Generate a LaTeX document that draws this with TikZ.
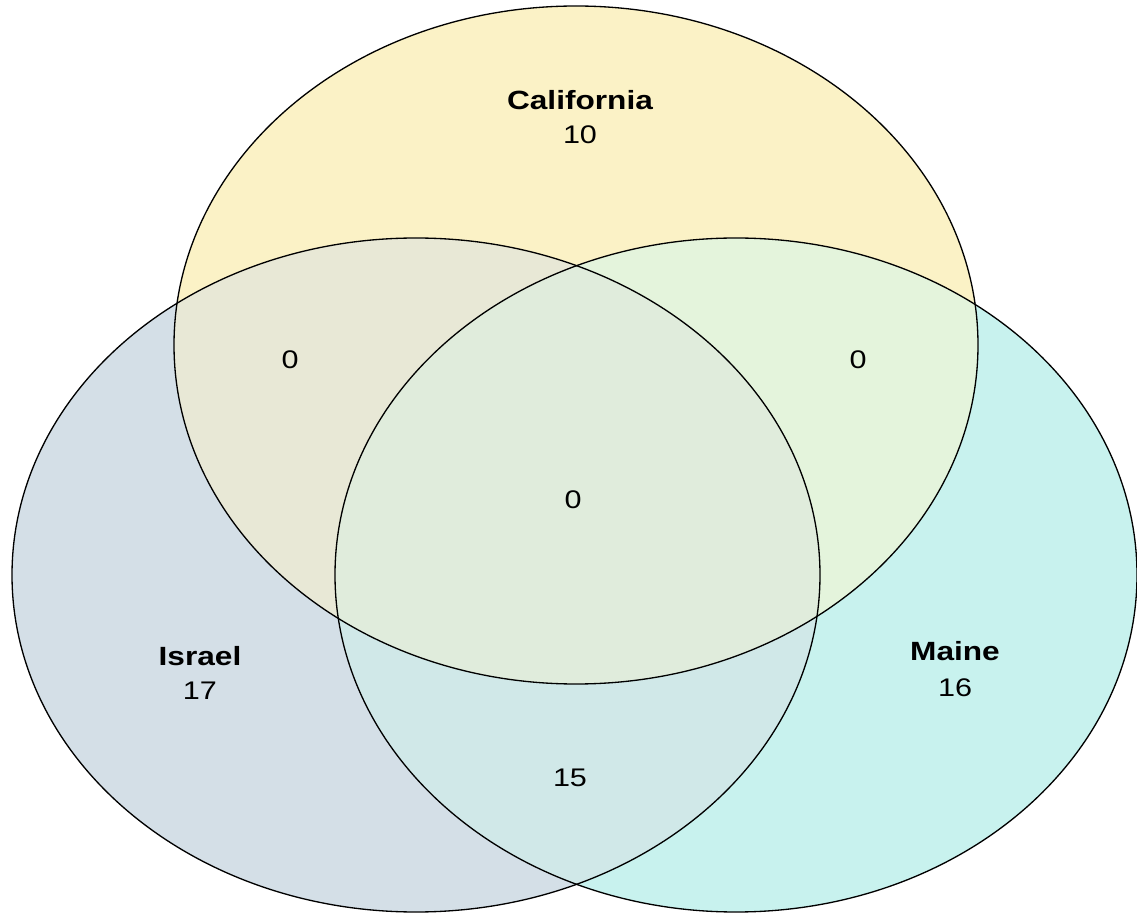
\documentclass[tikz,border=0pt]{standalone}
\usepackage{fontspec}
\setmainfont{Liberation Sans}
\usetikzlibrary{positioning}
\definecolor{calfill}{HTML}{FBF2C6}
\definecolor{isrfill}{HTML}{D4DFE7}
\definecolor{maifill}{HTML}{C8F2EE}
\definecolor{calisr}{HTML}{E8E8D6}
\definecolor{calmai}{HTML}{E4F4DC}
\definecolor{isrmai}{HTML}{D0E8E8}
\definecolor{allthree}{HTML}{E0ECDC}
\newcommand{\calset}{(576,345) ellipse [x radius=402, y radius=339]}
\newcommand{\isrset}{(416,575) ellipse [x radius=404, y radius=337]}
\newcommand{\maiset}{(736,575) ellipse [x radius=401, y radius=337]}
\newcommand{\wide}[1]{\scalebox{1.2}[1]{#1}}
\tikzset{
  setname/.style={font=\bfseries\fontsize{15pt}{17pt}\selectfont, inner sep=0pt},
  count/.style={font=\fontsize{14.5pt}{16pt}\selectfont, inner sep=0pt},
  outline/.style={draw=black, line width=0.75pt}
}
\begin{document}
\begin{tikzpicture}[x=0.02cm, y=-0.02cm]
  \useasboundingbox (0,0) rectangle (1137,915);
  % single sets
  \fill[calfill] \calset;
  \fill[isrfill] \isrset;
  \fill[maifill] \maiset;
  % pairwise overlaps
  \begin{scope}
    \clip \calset;
    \fill[calisr] \isrset;
    \fill[calmai] \maiset;
  \end{scope}
  \begin{scope}
    \clip \isrset;
    \fill[isrmai] \maiset;
  \end{scope}
  % triple overlap
  \begin{scope}
    \clip \calset;
    \clip \isrset;
    \fill[allthree] \maiset;
  \end{scope}
  % outlines
  \draw[outline] \calset;
  \draw[outline] \isrset;
  \draw[outline] \maiset;

  % labels
  \node[setname] (calname) at (580,100) {\wide{California}};
  \node[count] (calnum) at (580,135) {\wide{10}};
  \node[setname] (isrname) at (200,656) {\wide{Israel}};
  \node[count] (isrnum) at (200,691) {\wide{17}};
  \node[setname] (mainame) at (955,651) {\wide{Maine}};
  \node[count] (mainum) at (955,688) {\wide{16}};
  \node[count] (ci) at (290,360) {\wide{0}};
  \node[count] (cm) at (858,360) {\wide{0}};
  \node[count] (cim) at (573,500) {\wide{0}};
  \node[count] (im) at (570,778) {\wide{15}};
\end{tikzpicture}
\end{document}
